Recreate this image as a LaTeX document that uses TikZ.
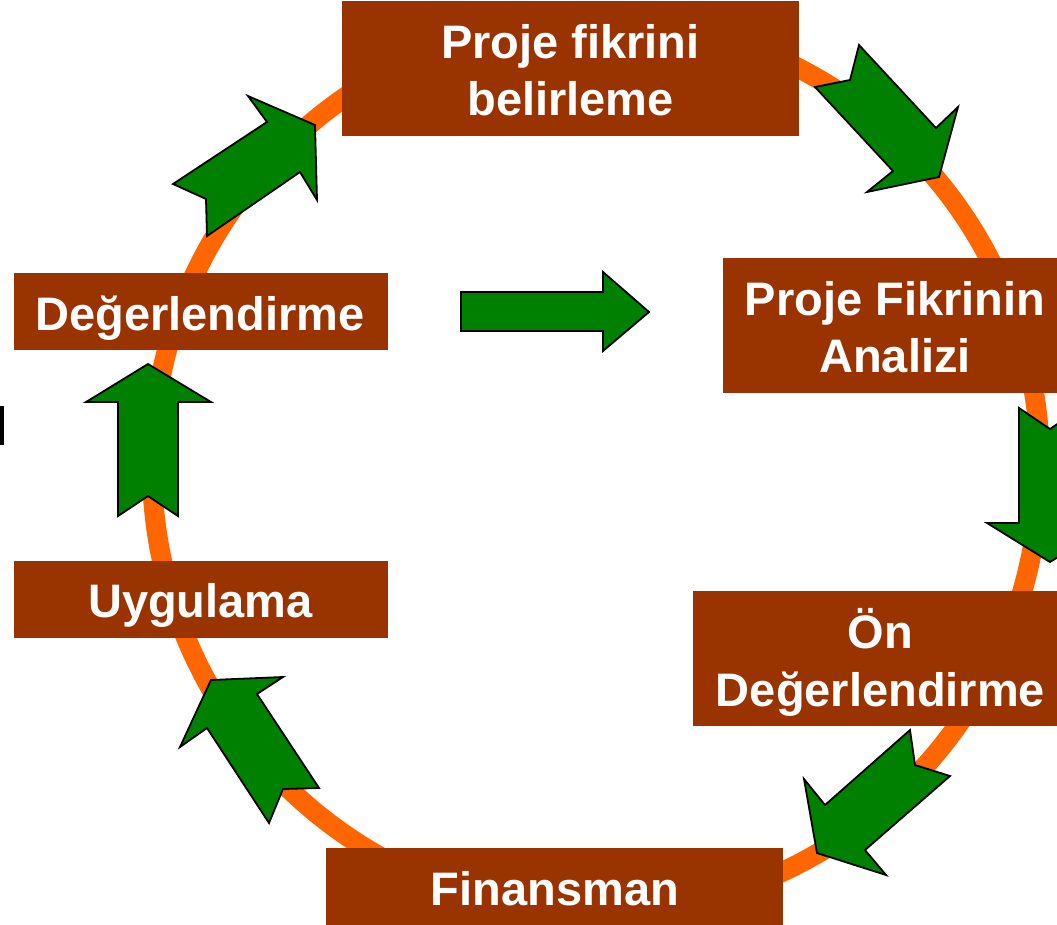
\documentclass[tikz,border=0pt]{standalone}
\usepackage{fontspec}
\setmainfont{Liberation Sans}
\definecolor{boxbrown}{HTML}{993300}
\definecolor{ringorange}{HTML}{FF6600}
\definecolor{arrowgreen}{HTML}{008000}
\begin{document}
\begin{tikzpicture}[x=1pt,y=-1pt,
  box/.style={rectangle, fill=boxbrown, draw=none, inner sep=0pt},
  lbl/.style={text=white, font=\fontsize{47}{56}\selectfont\bfseries, inner sep=0pt, anchor=base},
  blockarrow/.style={fill=arrowgreen, draw=black, line width=1.8pt, line join=miter}]
\useasboundingbox (0,0) rectangle (1057,924);
\begin{scope}
\clip (0,0) rectangle (1057,924);
% ring
\draw[ringorange, line width=20pt] (596,466) ellipse [x radius=444, y radius=447];
% boxes
\node[box, minimum width=457pt, minimum height=135pt] (b1) at (570.5,68.5) {};
\node[box, minimum width=344pt, minimum height=135pt] (b2) at (895,325.5) {};
\node[box, minimum width=374pt, minimum height=77pt] (b3) at (201,311.5) {};
\node[box, minimum width=374pt, minimum height=77pt] (b4) at (201,599.5) {};
\node[box, minimum width=457pt, minimum height=80pt] (b5) at (554.5,888) {};
\node[box, minimum width=375pt, minimum height=135pt] (b6) at (880.5,658.5) {};
% labels
\node[lbl] (t1a) at (570.5,58) {Proje fikrini};
\node[lbl] (t1b) at (570.5,115) {belirleme};
\node[lbl] (t2a) at (895,315) {Proje Fikrinin};
\node[lbl] (t2b) at (895,372) {Analizi};
\node[lbl] (t3) at (200,330) {Değerlendirme};
\node[lbl] (t4) at (200.5,617) {Uygulama};
\node[lbl] (t5) at (555,905) {Finansman};
\node[lbl] (t6a) at (880.5,648) {Ön};
\node[lbl] (t6b) at (880.5,706) {Değerlendirme};
% block arrows
\draw[blockarrow] (173,184) -- (206,199) -- (207,236) -- (300,172) -- (317,200) -- (315,125) -- (248,96) -- (267,122) -- cycle;
\draw[blockarrow] (815,87) -- (850,80) -- (859,45) -- (936,128) -- (958,107) -- (939,177) -- (867,192) -- (893,171) -- cycle;
\draw[blockarrow] (1019,408) -- (1050,429) -- (1081,408) -- (1081,523) -- (1113,523) -- (1050,562) -- (987,523) -- (1019,523) -- cycle;
\draw[blockarrow] (910,730) -- (915,765) -- (950,776) -- (865,850) -- (886,875) -- (817,853) -- (804,779) -- (825,805) -- cycle;
\draw[blockarrow] (269,823) -- (283,789) -- (319,788) -- (257,694) -- (283,677) -- (211,680) -- (180,747) -- (207,728) -- cycle;
\draw[blockarrow] (148,364) -- (211,402) -- (178,402) -- (178,516) -- (148,496) -- (118,516) -- (118,402) -- (86,402) -- cycle;
\draw[blockarrow] (461,292) -- (603,292) -- (603,272) -- (649,312) -- (603,351) -- (603,331) -- (461,331) -- cycle;
% cut-off mark at left edge
\fill[black] (0,406) rectangle (4,445);
\end{scope}
\end{tikzpicture}
\end{document}
